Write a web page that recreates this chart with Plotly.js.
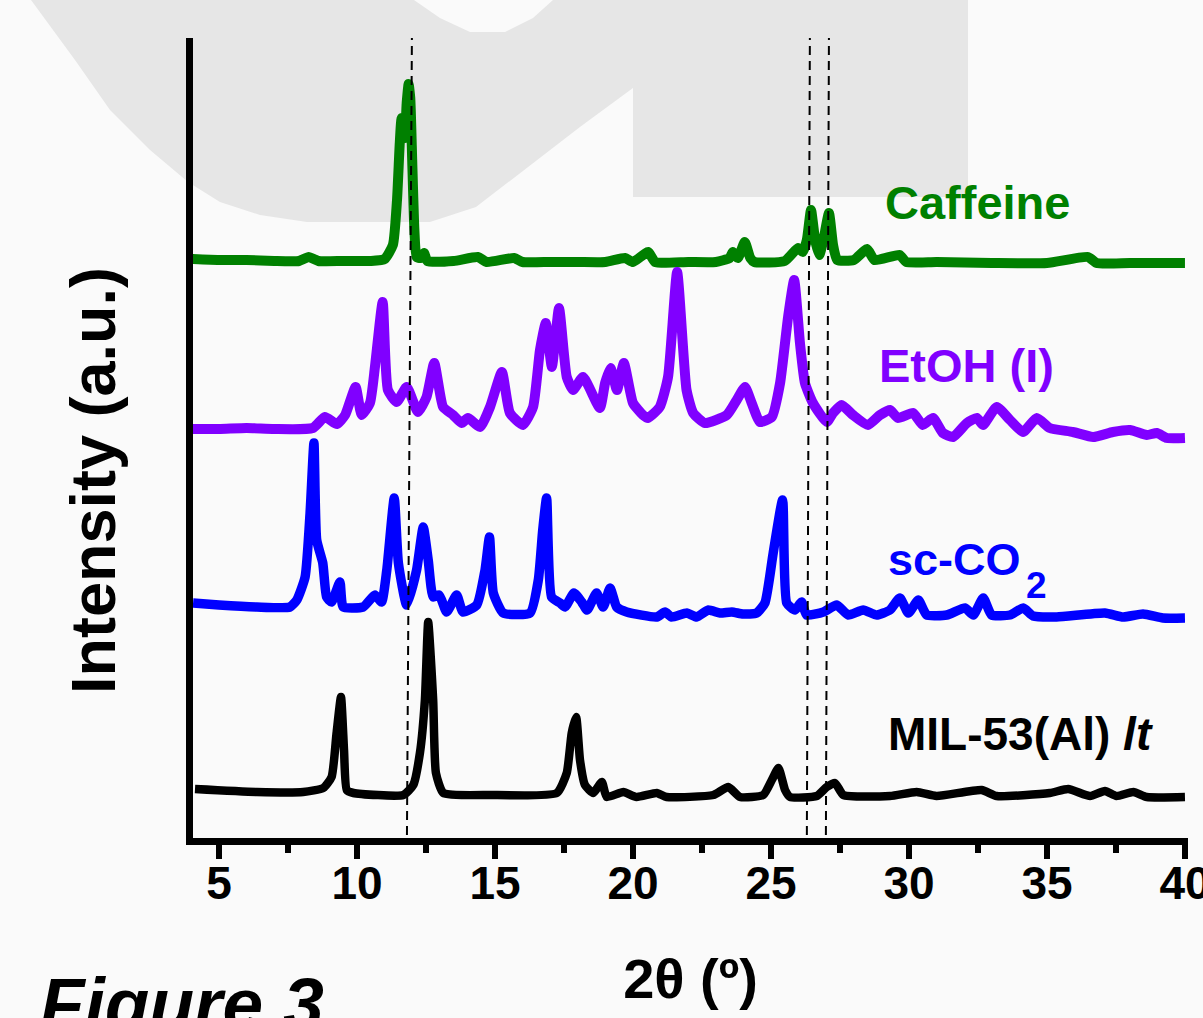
<!DOCTYPE html>
<html>
<head>
<meta charset="utf-8">
<script src="https://cdn.plot.ly/plotly-3.0.1.min.js"></script>
<style>
  html, body { margin: 0; padding: 0; background: #fafafa; }
  #chart { width: 1203px; height: 1018px; }
</style>
</head>
<body>
<div id="chart"></div>
<script>
// ---------------- DATA ----------------
// 2θ (degrees) and intensity (a.u., stacked offsets)
const caffeineX = [4.0,5.0,6.0,7.0,7.9,8.25,8.6,9.5,10.5,11.0,11.3,11.45,11.55,11.62,11.68,11.74,11.8,11.87,11.93,12.0,12.08,12.16,12.3,12.43,12.55,13.5,14.38,14.7,15.69,16.0,17.0,18.0,19.0,19.71,20.0,20.55,20.8,22.0,23.0,23.5,23.62,23.8,24.05,24.25,24.4,25.5,25.98,26.15,26.3,26.45,26.6,26.75,26.9,27.1,27.25,27.4,28.0,28.48,28.75,29.66,29.9,31.0,33.0,35.0,36.49,36.8,38.0,40.0];
const caffeineY = [584,583,583,582,582,586,582,582,582,584,598,643,700,725,723,705,740,759,745,683,613,586,585,590,582,582,586,581,585,581,581,581,581,585,581,591,581,581,581,585,591,585,601,585,581,582,595,591,603,633,603,588,603,630,598,583,583,594,583,588,581,581,580,580,586,580,580,580];

const etohX = [4.02,5.0,6.0,7.0,8.4,8.84,9.27,9.57,9.95,10.17,10.47,10.65,10.93,11.12,11.44,11.8,12.21,12.52,12.8,13.12,13.48,13.79,14.02,14.46,14.82,15.25,15.54,16.01,16.38,16.63,16.84,17.06,17.32,17.6,17.83,18.19,18.8,18.99,19.19,19.42,19.67,20.0,20.36,20.54,20.97,21.27,21.6,21.94,22.18,22.61,23.4,23.76,24.06,24.3,24.6,25.03,25.33,25.62,25.84,26.05,26.23,26.52,27.02,27.25,27.56,27.97,28.51,28.95,29.31,29.6,30.15,30.5,30.87,31.23,31.6,32.1,32.46,32.68,33.18,33.66,34.13,34.63,35.1,35.94,36.67,37.39,38.01,38.62,38.98,39.35,40.0];
const etohY = [414,414,415,414,415,426,419,428,456,428,440,476,541,453,441,456,431,446,480,436,428,420,425,416,436,471,430,418,436,493,520,476,535,466,453,466,435,460,475,453,480,440,428,425,436,466,571,453,430,420,428,443,456,440,421,426,460,526,563,500,460,440,421,430,438,428,418,428,433,425,430,418,425,410,406,420,425,418,436,423,411,425,415,411,406,411,413,408,410,405,405];

const scco2X = [4.06,5.0,6.37,7.57,7.82,8.12,8.3,8.44,8.54,8.76,8.9,9.08,9.38,9.5,10.22,10.65,10.89,11.08,11.35,11.5,11.8,12.16,12.4,12.58,12.76,12.98,13.25,13.61,13.84,14.34,14.64,14.8,14.94,15.3,16.27,16.57,16.73,16.87,17.05,17.36,17.54,17.86,18.14,18.34,18.68,18.92,19.17,19.41,19.77,20.86,21.16,21.4,21.95,22.31,22.73,23.15,23.58,23.99,24.48,24.78,25.08,25.42,25.57,25.87,26.11,26.29,26.9,27.38,27.8,28.34,28.83,29.31,29.67,29.98,30.34,30.64,31.37,32.03,32.33,32.69,32.99,33.66,34.14,34.5,35.35,37.1,37.76,38.48,39.2,40.0];
const scco2Y = [240,238,236,236,243,266,330,400,303,280,246,241,261,236,236,248,241,273,345,280,238,273,316,283,246,248,231,248,231,238,273,306,250,230,230,263,313,345,246,240,236,250,241,233,250,236,255,236,231,226,231,226,230,226,233,230,231,229,230,240,290,343,240,233,241,228,231,238,228,233,228,233,245,230,243,228,228,235,228,245,228,228,235,227,226,230,226,229,225,225];

const milX = [4.13,6.37,8.05,8.78,9.08,9.26,9.42,9.53,9.63,9.87,11.68,12.04,12.28,12.46,12.58,12.76,12.86,13.13,14.82,17.24,17.6,17.78,17.94,18.08,18.26,18.56,18.87,19.05,19.65,20.13,20.86,21.22,22.91,23.45,23.88,24.72,25.03,25.27,25.51,25.69,26.66,27.02,27.32,27.62,29.31,30.28,31.0,32.63,33.18,35.1,35.77,36.56,37.1,37.52,38.13,38.62,40.0];
const milY = [54,51,51,55,66,110,146,93,53,50,48,58,90,143,221,143,70,50,48,50,70,110,126,83,58,50,61,46,51,46,50,46,48,56,46,48,63,75,53,46,47,56,60,48,47,51,47,53,47,50,54,47,52,47,51,46,46];

const seriesNames  = ['Caffeine', 'EtOH (I)', 'sc-CO2', 'MIL-53(Al) lt'];
const seriesColors = ['#008000', '#8000ff', '#0000ff', '#000000'];

// dashed reference lines (2θ at bottom and top of the plot)
const refLineBottom = [11.81, 26.30, 26.99];
const refLineTop    = [11.99, 26.41, 27.10];

const tickVals  = [5, 10, 15, 20, 25, 30, 35, 40];
const tickTexts = ['5', '10', '15', '20', '25', '30', '35', '40'];

// ---------------- FIGURE ----------------
const FONT = 'Liberation Sans, Arial, Helvetica, sans-serif';

const xs = [caffeineX, etohX, scco2X, milX];
const ys = [caffeineY, etohY, scco2Y, milY];
const widths = [10, 10, 9.5, 8.5];

const traces = xs.map((x, i) => ({
  type: 'scatter', mode: 'lines', x: x, y: ys[i], name: seriesNames[i],
  line: { color: seriesColors[i], width: widths[i], shape: 'spline', smoothing: 0.5 },
  hoverinfo: 'x+y+name', showlegend: false
}));

// background watermark (decoration) – pixel outline converted to paper coords
const L = 193, T = 38, W = 995, H = 800;
const wm = [[31,0],[414,0],[440,18],[470,32],[505,32],[533,18],[553,0],[968,0],[968,197],[633,197],[633,88],[580,127],[476,207],[430,222],[307,222],[260,215],[220,202],[188,182],[150,150],[110,110],[75,60],[31,0]];
const wmPath = wm.map((p, i) => (i ? 'L' : 'M') + ((p[0]-L)/W).toFixed(4) + ',' + ((T+H-p[1])/H).toFixed(4)).join(' ') + ' Z';

const shapes = [{
  type: 'path', xref: 'paper', yref: 'paper', path: wmPath,
  fillcolor: '#e6e6e6', line: { width: 0 }, layer: 'below'
}];
refLineBottom.forEach((xb, i) => {
  shapes.push({
    type: 'line', xref: 'x', yref: 'y', x0: xb, x1: refLineTop[i], y0: 8, y1: 808,
    line: { color: '#000', width: 2, dash: '9px,6px' }, layer: 'above'
  });
});

const annotations = [
  { text: 'Caffeine', x: 29.05, y: 641, color: seriesColors[0], size: 47 },
  { text: 'EtOH (I)', x: 28.85, y: 478, color: seriesColors[1], size: 47 },
  { text: 'sc-CO', x: 29.15, y: 284, color: seriesColors[2], size: 45 },
  { text: '2', x: 34.17, y: 258, color: seriesColors[2], size: 37 },
  { text: 'MIL-53(Al) <i>lt</i>', x: 29.15, y: 109, color: seriesColors[3], size: 46 }
].map(a => ({
  text: a.text, x: a.x, y: a.y, xref: 'x', yref: 'y', xanchor: 'left', yanchor: 'middle',
  showarrow: false, font: { family: FONT, size: a.size, color: a.color, weight: 'bold' }
}));
// y-axis title (placed as rotated text to match the reference position)
annotations.push({
  text: 'Intensity (a.u.)', xref: 'paper', yref: 'paper', x: (93 - L) / W, y: (T + H - 481) / H,
  xanchor: 'center', yanchor: 'middle', textangle: -90, showarrow: false,
  font: { family: FONT, size: 63, color: '#000', weight: 'bold' }
});
annotations.push({
  text: '<i>Figure 3</i>', xref: 'paper', yref: 'paper', x: (38 - L) / W, y: (T + H - 1003) / H,
  xanchor: 'left', yanchor: 'middle', showarrow: false,
  font: { family: FONT, size: 73, color: '#000', weight: 'bold' }
});

const layout = {
  width: 1203, height: 1018,
  margin: { l: L, r: 1203 - L - W, t: T, b: 1018 - T - H, pad: 0 },
  paper_bgcolor: '#fafafa', plot_bgcolor: 'rgba(0,0,0,0)',
  showlegend: false,
  xaxis: {
    range: [4.058, 40.11], showgrid: false, zeroline: false,
    showline: true, linecolor: '#000', linewidth: 7,
    ticks: 'outside', ticklen: 14, tickwidth: 6, tickcolor: '#000',
    tickvals: tickVals, ticktext: tickTexts,
    ticklabeloverflow: 'allow', ticklabelstandoff: -15,
    minor: { dtick: 2.5, tick0: 0, ticks: 'outside', ticklen: 8, tickwidth: 6, tickcolor: '#000' },
    tickfont: { family: FONT, size: 46, color: '#000', weight: 'bold' },
    title: { text: '2θ (º)', font: { family: FONT, size: 56, color: '#000', weight: 'bold' }, standoff: 53 },
    automargin: false
  },
  yaxis: {
    range: [5, 805], showgrid: false, zeroline: false,
    showline: true, linecolor: '#000', linewidth: 7,
    ticks: '', showticklabels: false,
    automargin: false
  },
  shapes: shapes,
  annotations: annotations
};

Plotly.newPlot('chart', traces, layout, { displayModeBar: false });
</script>
</body>
</html>
